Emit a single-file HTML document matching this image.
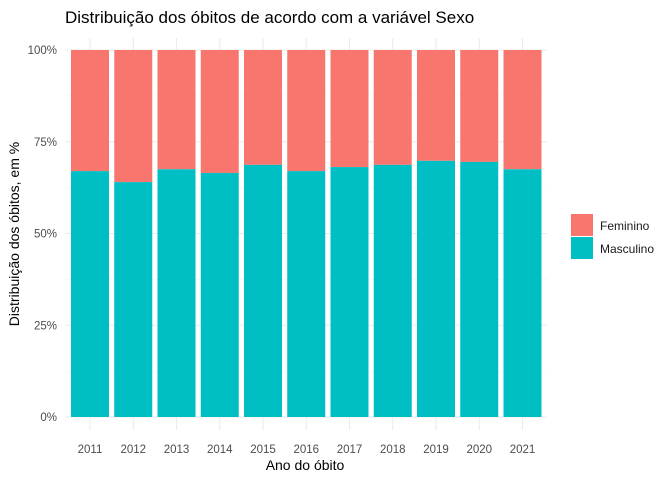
<!DOCTYPE html>
<html><head><meta charset="utf-8"><style>
body{margin:0;background:#fff;font-family:"Liberation Sans",sans-serif}
</style></head><body>
<svg id="c" width="672" height="480" xmlns="http://www.w3.org/2000/svg">
<text x="65" y="23" font-size="17" fill="#000">Distribuição dos óbitos de acordo com a variável Sexo</text>
<g id="grid"></g><g id="bars"></g><g id="ticks"></g>
<text x="305" y="470" font-size="14" text-anchor="middle" fill="#000">Ano do óbito</text>
<text transform="translate(19,234) rotate(-90)" font-size="14" text-anchor="middle" fill="#000">Distribuição dos óbitos, em %</text>
<g>
<rect x="571" y="214" width="22" height="22" fill="#F8766D"/>
<text x="600" y="230" font-size="12" fill="#1a1a1a">Feminino</text>
<rect x="571" y="237" width="22" height="22" fill="#00BFC4"/>
<text x="600" y="253" font-size="12" fill="#1a1a1a">Masculino</text>
</g>
</svg>
<script>
const years=["2011","2012","2013","2014","2015","2016","2017","2018","2019","2020","2021"];
const masculino=[0.670,0.640,0.675,0.665,0.687,0.670,0.681,0.687,0.698,0.695,0.675];
const yTicks=[0,0.25,0.5,0.75,1];
const yTickLabels=["0%","25%","50%","75%","100%"];
const NS="http://www.w3.org/2000/svg";
const x=i=>90+i*43.25, y=v=>417-v*367, bw=38;
function mk(t,a,p){const e=document.createElementNS(NS,t);for(const k in a)e.setAttribute(k,a[k]);p.appendChild(e);return e;}
const g=document.getElementById('grid'),b=document.getElementById('bars'),tk=document.getElementById('ticks');
for(let v=0.125;v<1;v+=0.25){const l=mk('line',{x1:65,x2:547,y1:y(v),y2:y(v),stroke:'#f2f2f2','stroke-width':0.6},g);

}
yTicks.forEach((v,i)=>{const l=mk('line',{x1:65,x2:547,y1:y(v),y2:y(v),stroke:'#ebebeb','stroke-width':1.1},g);


const t=mk('text',{x:57,y:y(v)+4,'font-size':11.5,'text-anchor':'end',fill:'#4d4d4d'},tk);t.textContent=yTickLabels[i];

});
years.forEach((yr,i)=>{const l=mk('line',{x1:x(i),x2:x(i),y1:38,y2:430,stroke:'#ebebeb','stroke-width':1.1},g);


const f=mk('rect',{x:x(i)-bw/2,y:y(1),width:bw,height:y(masculino[i])-y(1),fill:'#F8766D'},b);


const m=mk('rect',{x:x(i)-bw/2,y:y(masculino[i]),width:bw,height:y(0)-y(masculino[i]),fill:'#00BFC4'},b);


const t=mk('text',{x:x(i),y:453,'font-size':11.5,'text-anchor':'middle',fill:'#4d4d4d'},tk);t.textContent=yr;

});
</script>
</body></html>
